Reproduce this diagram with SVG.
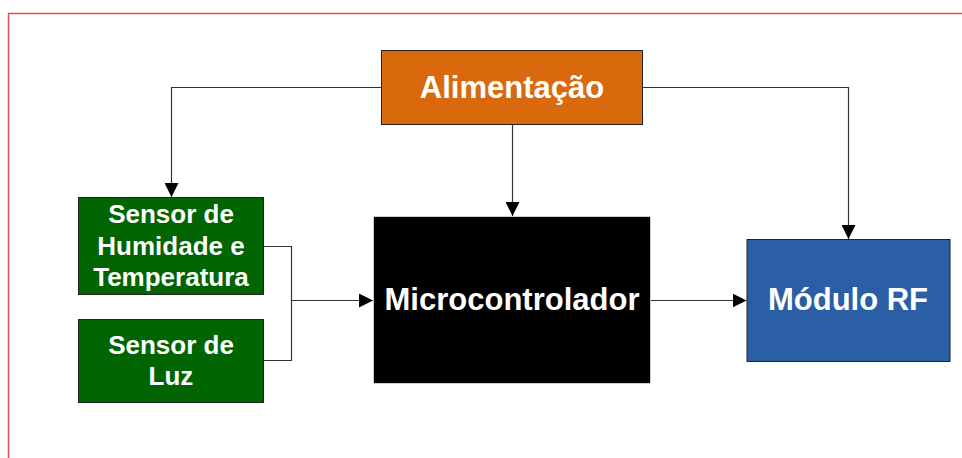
<svg xmlns="http://www.w3.org/2000/svg" width="962" height="458" viewBox="0 0 962 458">
  <defs>
    <marker id="arrow" viewBox="0 0 14 14" markerWidth="14" markerHeight="14" refX="14" refY="7" orient="auto" markerUnits="userSpaceOnUse">
      <path d="M0,0 L14,7 L0,14 Z" fill="#000"/>
    </marker>
    <style>
      .box { stroke: #222; stroke-width: 1; }
      .lbl { font-family: "Liberation Sans", Arial, sans-serif; font-weight: bold; fill: #fff; text-anchor: middle; }
      .big { font-size: 31px; }
      .small { font-size: 26px; }
      .wire { fill: none; stroke: #333; stroke-width: 1.2; }
    </style>
  </defs>
  <rect width="962" height="458" fill="#fff"/>
  <!-- page frame -->
  <path d="M8.5,458 V13.5 H962" fill="none" stroke="#D9534F" stroke-width="1.5"/>

  <g id="connectors">
    <path class="wire" d="M381,87.5 H171.5 V197" marker-end="url(#arrow)"/>
    <path class="wire" d="M512.5,124 V216" marker-end="url(#arrow)"/>
    <path class="wire" d="M643,87.5 H848.5 V239" marker-end="url(#arrow)"/>
    <path class="wire" d="M263.5,246.5 H291.5 V360.5 H263.5"/>
    <path class="wire" d="M291.5,300.5 H373" marker-end="url(#arrow)"/>
    <path class="wire" d="M651,300.5 H746.5" marker-end="url(#arrow)"/>
  </g>

  <g id="alimentacao">
    <rect class="box" x="381.5" y="50.5" width="261" height="74" fill="#D9690C"/>
    <text class="lbl big" x="512" y="98">Alimentação</text>
  </g>

  <g id="sensor-humidade">
    <rect class="box" x="78.5" y="197.5" width="185" height="97" fill="#006400"/>
    <text class="lbl small" x="171" y="223">Sensor de</text>
    <text class="lbl small" x="171" y="254.5">Humidade e</text>
    <text class="lbl small" x="171" y="286">Temperatura</text>
  </g>

  <g id="sensor-luz">
    <rect class="box" x="78.5" y="319.5" width="185" height="83" fill="#006400"/>
    <text class="lbl small" x="171" y="353.5">Sensor de</text>
    <text class="lbl small" x="171" y="384.5">Luz</text>
  </g>

  <g id="microcontrolador">
    <rect x="373.5" y="216.5" width="277" height="167" fill="#000" stroke="#ccc" stroke-width="1"/>
    <text class="lbl big" x="512" y="310">Microcontrolador</text>
  </g>

  <g id="modulo-rf">
    <rect class="box" x="747" y="239.5" width="203" height="122" fill="#2A5FA6"/>
    <text class="lbl big" x="848" y="310">Módulo RF</text>
  </g>
</svg>
